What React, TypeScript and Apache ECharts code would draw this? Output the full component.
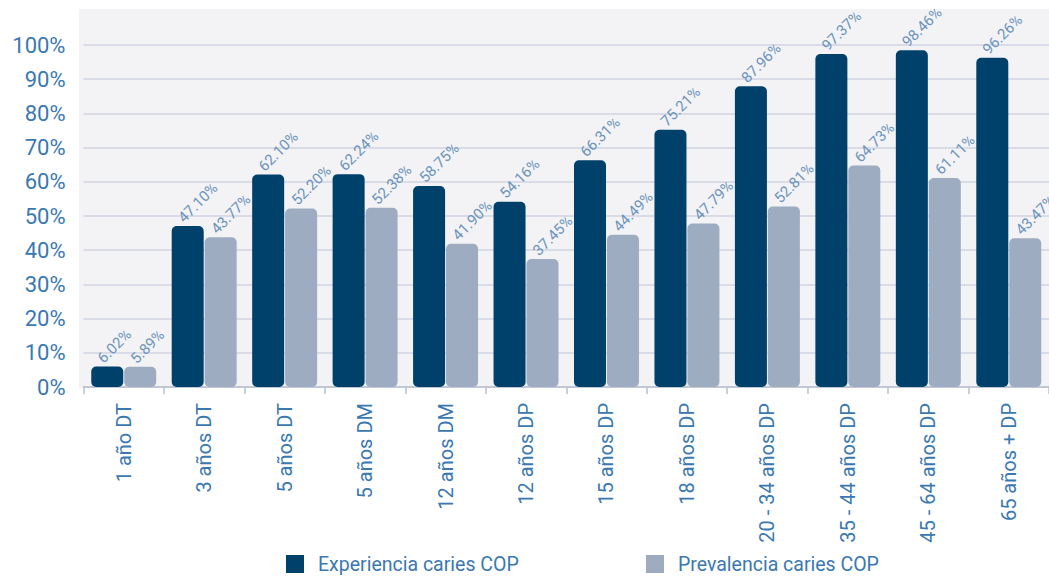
import React, { useEffect, useRef } from "react";
import * as echarts from "echarts";

const categories = [
  "1 año DT",
  "3 años DT",
  "5 años DT",
  "5 años DM",
  "12 años DM",
  "12 años DP",
  "15 años DP",
  "18 años DP",
  "20 - 34 años DP",
  "35 - 44 años DP",
  "45 - 64 años DP",
  "65 años + DP",
];
const experiencia = [6.02, 47.1, 62.1, 62.24, 58.75, 54.16, 66.31, 75.21, 87.96, 97.37, 98.46, 96.26];
const prevalencia = [5.89, 43.77, 52.2, 52.38, 41.9, 37.45, 44.49, 47.79, 52.81, 64.73, 61.11, 43.47];
const seriesNames = ["Experiencia caries COP", "Prevalencia caries COP"];

const FONT = "Roboto, 'Liberation Sans', sans-serif";

export default function App() {
  const ref = useRef<HTMLDivElement>(null);
  useEffect(() => {
    if (!ref.current) return;
    const chart = echarts.init(ref.current, undefined, { renderer: "svg" });
    const barLabel = {
      show: true,
      position: [9, -6],
      rotate: 45,
      align: "left",
      verticalAlign: "middle",
      color: "#6b93bb",
      fontFamily: FONT,
      fontSize: 15,
      formatter: (p: any) => p.value.toFixed(2) + "%",
    };
    const legendBase = {
      top: 549,
      itemWidth: 18,
      itemHeight: 18,
      icon: "rect",
      textStyle: { fontFamily: FONT, fontSize: 19.5, color: "#3a78b2", padding: [0, 0, 0, 9] },
    };
    chart.setOption({
      animation: false,
      backgroundColor: "#ffffff",
      graphic: [
        {
          type: "rect",
          z: -10,
          silent: true,
          shape: { x: 79, y: 9, width: 970, height: 379 },
          style: { fill: "#f3f3f6" },
        },
      ],
      grid: { left: 83.5, right: 0, top: 45, bottom: 189 },
      legend: [
        { ...legendBase, data: [seriesNames[0]], left: 281 },
        { ...legendBase, data: [seriesNames[1]], left: 641 },
      ],
      xAxis: {
        type: "category",
        data: categories,
        axisLine: { lineStyle: { color: "#b9c0cc", width: 1.5 } },
        axisTick: { show: true, length: 7, lineStyle: { color: "#b9c0cc", width: 1.5 } },
        axisLabel: {
          rotate: 90,
          margin: 16,
          color: "#3a78b2",
          fontFamily: FONT,
          fontSize: 20,
          interval: 0,
        },
      },
      yAxis: {
        type: "value",
        min: 0,
        max: 100,
        interval: 10,
        axisLine: { show: false },
        axisTick: { show: false },
        axisLabel: {
          formatter: "{value}%",
          color: "#3a78b2",
          fontFamily: FONT,
          fontSize: 22,
          margin: 18,
        },
        splitLine: { lineStyle: { color: "#d0d5e2", width: 1.5 } },
      },
      series: [
        {
          name: seriesNames[0],
          type: "bar",
          data: experiencia,
          barWidth: 32,
          barGap: "3%",
          itemStyle: { color: "#00416c", borderRadius: 5 },
          label: barLabel,
        },
        {
          name: seriesNames[1],
          type: "bar",
          data: prevalencia,
          barWidth: 32,
          itemStyle: { color: "#9dacc1", borderRadius: 5 },
          label: barLabel,
        },
      ],
    });
    return () => chart.dispose();
  }, []);
  return (
    <div
      ref={ref}
      style={{ position: "fixed", left: 0, top: 0, width: 1049, height: 576 }}
    />
  );
}
